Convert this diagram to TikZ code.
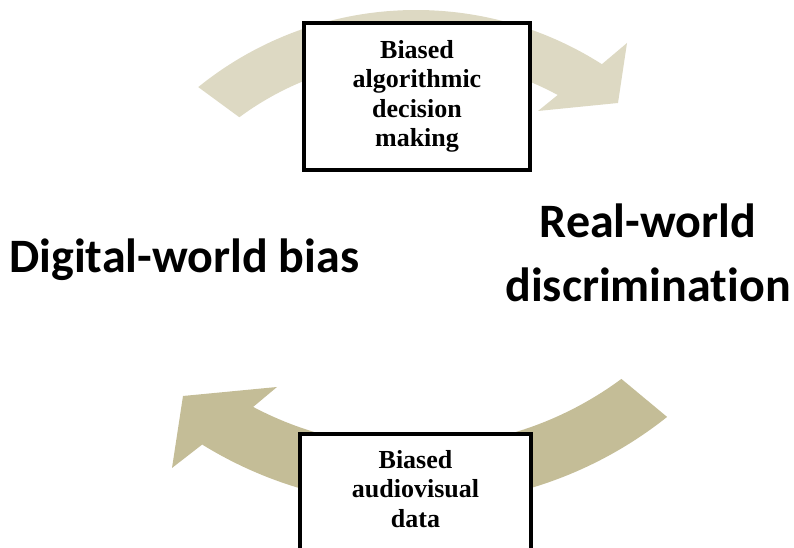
\documentclass[tikz,border=0pt]{standalone}
\usepackage{fontspec}
\setmainfont{Liberation Serif}
\newfontfamily\calibriFont[Ligatures=NoCommon]{Carlito}
\usetikzlibrary{calc}

\definecolor{tanLight}{HTML}{DDD9C3}
\definecolor{tanDark}{HTML}{C4BD97}

\newcommand*{\topOuter}{346}
\newcommand*{\topInner}{297}
\newcommand*{\botOuter}{405}
\newcommand*{\botInner}{347}

\begin{document}
\begin{tikzpicture}[x=0.75pt,y=0.75pt,
    boxframe/.style={draw, line width=3pt, fill=white, inner sep=0pt},
    boxtext/.style={font=\bfseries\fontsize{19.5}{22}\selectfont, align=center, inner sep=0pt},
    bigtext/.style={font=\calibriFont\bfseries\fontsize{36}{48}\selectfont, align=center, inner sep=0pt}]
\useasboundingbox (0,0) rectangle (794,548);
\clip (0,0) rectangle (794,548);

% centres of the two arcs
\coordinate (topC) at (416,192);
\coordinate (botC) at (415,448);

% upper arrow
\fill[tanLight] ($(topC)+(129:\topOuter)$) arc[start angle=129, end angle=57.5, radius=\topOuter]
    -- (627,505) -- (618,445) -- (538,437)
    -- ($(topC)+(61.5:\topInner)$) arc[start angle=61.5, end angle=126.5, radius=\topInner] -- cycle;

% lower arrow
\fill[tanDark] ($(botC)+(-51.5:\botOuter)$) arc[start angle=-51.5, end angle=-121.7, radius=\botOuter]
    -- (172,80) -- (183,152) -- (277,161)
    -- ($(botC)+(-117.8:\botInner)$) arc[start angle=-117.8, end angle=-53.5, radius=\botInner] -- cycle;

% boxes
\node[boxframe, boxtext, minimum width=169.5pt, minimum height=110.25pt] (algoBox) at (417,451.5) {Biased\\algorithmic\\decision\\making};
\node[boxframe, anchor=north, minimum width=173.25pt, minimum height=105pt] (dataBox) at (415.5,116) {};
\node[boxtext] (dataText) at (415.5,59) {Biased\\audiovisual\\data};

% labels
\node[bigtext, anchor=base west] (digital) at (9,275) {Digital-world bias};
\node[bigtext] (real) at (648,295.5) {Real-world\\discrimination};

\end{tikzpicture}
\end{document}
